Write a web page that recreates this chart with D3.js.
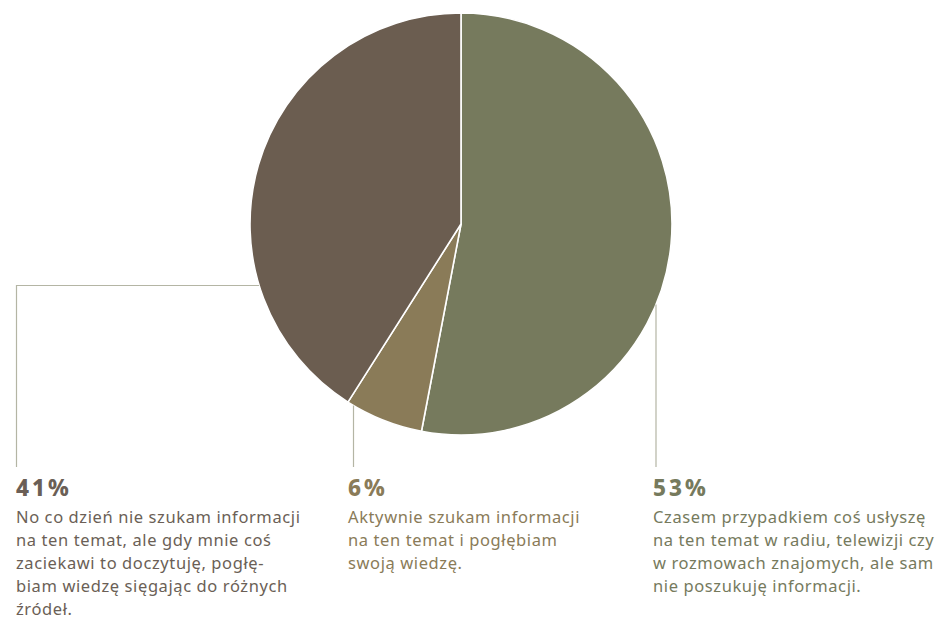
<!DOCTYPE html>
<html lang="pl">
<head>
<meta charset="utf-8">
<script src="https://cdn.jsdelivr.net/npm/d3@7"></script>
<style>
  html, body { margin: 0; padding: 0; background: #fff; }
  svg { display: block; font-family: "Noto Sans", "Open Sans", sans-serif; }
</style>
</head>
<body>
<svg id="chart" width="940" height="624"></svg>
<script>
// Answer shares, clockwise from 12 o'clock
const keys = ["sometimes", "active", "occasional"];
const values = [53, 6, 41];
const percentLabels = ["53%", "6%", "41%"];
const descriptions = [
  ["Czasem przypadkiem coś usłyszę", "na ten temat w radiu, telewizji czy", "w rozmowach znajomych, ale sam", "nie poszukuję informacji."],
  ["Aktywnie szukam informacji", "na ten temat i pogłębiam", "swoją wiedzę."],
  ["No co dzień nie szukam informacji", "na ten temat, ale gdy mnie coś", "zaciekawi to doczytuję, pogłę-", "biam wiedzę sięgając do różnych", "źródeł."]
];
const sliceColors = ["#767a5d", "#8a7b58", "#6b5d50"];
const textColors = ["#767a5d", "#8a7b58", "#6b5f56"];

const svg = d3.select("#chart");
const cx = 461, cy = 224, r = 211;

const pie = d3.pie().sort(null).value(d => d)(values);
const arc = d3.arc().innerRadius(0).outerRadius(r);

const g = svg.append("g").attr("transform", `translate(${cx},${cy})`);
g.selectAll("path")
  .data(pie)
  .join("path")
  .attr("d", arc)
  .attr("fill", (d, i) => sliceColors[i])
  .attr("stroke", "#fff")
  .attr("stroke-width", 1.6)
  .attr("stroke-linejoin", "round");

// Label columns and leader lines
const colX = [653, 348, 16];
const leaderX = [656, 353.5, 16.5];
const lineBottom = 467;
const leaderColor = "#b4b5a4";

function leader(i) {
  const x = leaderX[i];
  if (i === 2) {
    // horizontal elbow from the left side of the pie
    const y = 285.5;
    const xEdge = cx - Math.sqrt(r * r - (y - cy) * (y - cy));
    return [[xEdge, y], [x, y], [x, lineBottom]];
  }
  const yEdge = cy + Math.sqrt(r * r - (x - cx) * (x - cx));
  return [[x, yEdge], [x, lineBottom]];
}

svg.append("g").selectAll("path")
  .data(keys)
  .join("path")
  .attr("d", (k, i) => d3.line()(leader(i)))
  .attr("fill", "none")
  .attr("stroke", leaderColor)
  .attr("stroke-width", 1.2);

const labels = svg.append("g").selectAll("g")
  .data(keys)
  .join("g")
  .attr("transform", (k, i) => `translate(${colX[i]},0)`);

labels.append("text")
  .attr("x", 0)
  .attr("y", 496)
  .attr("fill", (k, i) => textColors[i])
  .attr("font-size", 22.5)
  .attr("font-weight", 800)
  .attr("letter-spacing", 3)
  .text((k, i) => percentLabels[i]);

labels.each(function (k, i) {
  const t = d3.select(this).append("text")
    .attr("fill", textColors[i])
    .attr("font-size", 16.5)
    .attr("font-weight", 400)
    .attr("letter-spacing", 0.6);
  t.selectAll("tspan")
    .data(descriptions[i])
    .join("tspan")
    .attr("x", 0)
    .attr("y", (d, j) => 523 + j * 23)
    .text(d => d);
});
</script>
</body>
</html>
